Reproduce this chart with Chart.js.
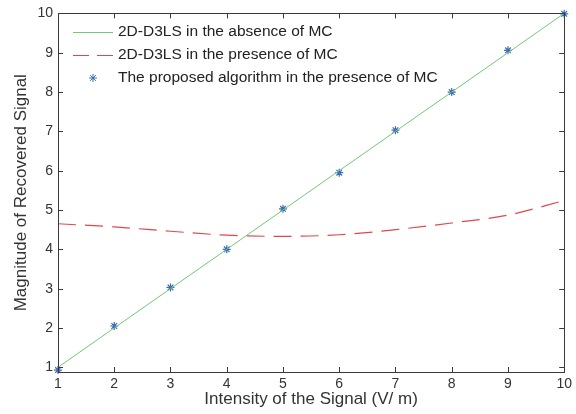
<!DOCTYPE html>
<html><head><meta charset="utf-8">
<script src="https://cdn.jsdelivr.net/npm/chart.js@4"></script>
<style>html,body{margin:0;padding:0;background:#fff}#wrap{width:576px;height:414px}</style>
</head><body><div id="wrap"><canvas id="c" width="576" height="414"></canvas></div>
<script>
const xValues = [1, 2, 3, 4, 5, 6, 7, 8, 9, 10];
const absenceMC = [1, 2, 3, 4, 5, 6, 7, 8, 9, 10];
const presenceMC = [4.65, 4.57, 4.46, 4.36, 4.33, 4.37, 4.5, 4.67, 4.87, 5.24];
const proposedMC = [0.93, 2.05, 3.03, 4.0, 5.03, 5.95, 7.03, 8.0, 9.06, 9.99];
const xTicks = [1, 2, 3, 4, 5, 6, 7, 8, 9, 10];
const yTicks = [1, 2, 3, 4, 5, 6, 7, 8, 9, 10];
const seriesLabels = [
  '2D-D3LS in the absence of MC',
  '2D-D3LS in the presence of MC',
  'The proposed algorithm in the presence of MC'
];
const xTitle = 'Intensity of the Signal (V/ m)';
const yTitle = 'Magnitude of Recovered Signal';

const FONT = '"Liberation Sans", Arial, Helvetica, sans-serif';
const GREEN = '#74c874', RED = '#e04848', BLUE = '#3c6cb4', AXIS = '#3a3a3a';

const pts = arr => xValues.map((x, i) => ({x: x, y: arr[i]}));

const frameTicks = {
  id: 'frameTicks',
  afterDraw(chart) {
    const ctx = chart.ctx, a = chart.chartArea;
    const xs = chart.scales.x, ys = chart.scales.y;
    ctx.save();
    ctx.strokeStyle = AXIS; ctx.lineWidth = 1;
    ctx.strokeRect(Math.round(a.left) + 0.5, Math.round(a.top) + 0.5,
      Math.round(a.right - a.left), Math.round(a.bottom - a.top));
    const L = 5;
    ctx.beginPath();
    xTicks.forEach(v => {
      const px = Math.round(xs.getPixelForValue(v)) + 0.5;
      ctx.moveTo(px, a.bottom); ctx.lineTo(px, a.bottom - L);
      ctx.moveTo(px, a.top); ctx.lineTo(px, a.top + L);
    });
    yTicks.forEach(v => {
      const py = Math.round(ys.getPixelForValue(v)) + 0.5;
      ctx.moveTo(a.left, py); ctx.lineTo(a.left + L, py);
      ctx.moveTo(a.right, py); ctx.lineTo(a.right - L, py);
    });
    ctx.stroke();
    ctx.restore();
  }
};

const innerLegend = {
  id: 'innerLegend',
  afterDraw(chart) {
    const ctx = chart.ctx;
    const rows = [32, 55, 78];
    const x0 = 73, x1 = 113, tx = 118;
    ctx.save();
    ctx.font = '15.5px ' + FONT;
    ctx.fillStyle = '#222';
    ctx.textBaseline = 'middle';
    ctx.textAlign = 'left';
    ctx.strokeStyle = GREEN; ctx.lineWidth = 1; ctx.setLineDash([]);
    ctx.beginPath(); ctx.moveTo(x0, rows[0] + 0.5); ctx.lineTo(x1, rows[0] + 0.5); ctx.stroke();
    ctx.strokeStyle = RED; ctx.lineWidth = 1.2; ctx.setLineDash([16, 8]);
    ctx.beginPath(); ctx.moveTo(x0, rows[1] + 0.5); ctx.lineTo(x1, rows[1] + 0.5); ctx.stroke();
    ctx.setLineDash([]);
    const cx = (x0 + x1) / 2, cy = rows[2];
    if (Chart.helpers && Chart.helpers.drawPoint) {
      ctx.strokeStyle = BLUE; ctx.fillStyle = BLUE; ctx.lineWidth = 1;
      Chart.helpers.drawPoint(ctx, {pointStyle: 'star', radius: 4, rotation: 0, borderWidth: 1}, cx, cy);
    }
    ctx.fillStyle = '#222';
    seriesLabels.forEach((t, i) => ctx.fillText(t, tx, rows[i]));
    ctx.restore();
  }
};

new Chart(document.getElementById('c'), {
  type: 'line',
  data: {
    datasets: [
      { label: seriesLabels[0], data: pts(absenceMC), borderColor: GREEN, borderWidth: 1,
        pointRadius: 0, fill: false, tension: 0 },
      { label: seriesLabels[1], data: pts(presenceMC), borderColor: RED, borderWidth: 1.2,
        borderDash: [18, 9], pointRadius: 0, fill: false, tension: 0.4, cubicInterpolationMode: 'monotone' },
      { label: seriesLabels[2], data: pts(proposedMC), showLine: false, borderColor: BLUE,
        backgroundColor: BLUE, pointStyle: 'star', pointRadius: 4, pointBorderWidth: 1.2, clip: false }
    ]
  },
  options: {
    responsive: false,
    animation: false,
    devicePixelRatio: 1,
    layout: { padding: { top: 10, right: 8, left: 0, bottom: 0 } },
    plugins: { legend: { display: false }, tooltip: { enabled: false } },
    scales: {
      x: {
        type: 'linear', min: 1, max: 10,
        afterFit(s) { s.height = 42; },
        afterBuildTicks(s) { s.ticks = xTicks.map(v => ({value: v})); },
        grid: { display: false, drawTicks: false },
        border: { display: false },
        ticks: { font: { family: FONT, size: 14 }, color: '#333', padding: 4, maxRotation: 0, autoSkip: false },
        title: { display: true, text: xTitle, color: '#333', font: { family: FONT, size: 17 }, padding: { top: 0, bottom: 4 } }
      },
      y: {
        type: 'linear', min: 0.88, max: 10,
        afterFit(s) { s.width = 58; },
        afterBuildTicks(s) { s.ticks = yTicks.map(v => ({value: v})); },
        grid: { display: false, drawTicks: false },
        border: { display: false },
        ticks: { font: { family: FONT, size: 14 }, color: '#333', padding: 5, autoSkip: false },
        title: { display: true, text: yTitle, color: '#333', font: { family: FONT, size: 17 }, padding: { top: 11, bottom: 0 } }
      }
    }
  },
  plugins: [frameTicks, innerLegend]
});
</script></body></html>
